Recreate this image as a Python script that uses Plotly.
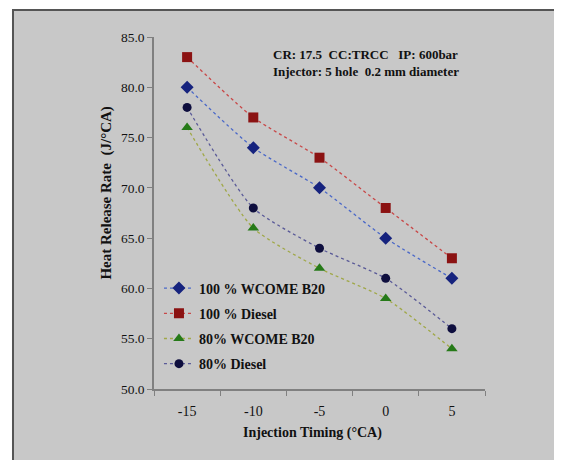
import plotly.graph_objects as go

timing = ["-15", "-10", "-5", "0", "5"]
wcome100 = [80, 74, 70, 65, 61]
diesel100 = [83, 77, 73, 68, 63]
wcome80 = [76, 66, 62, 59, 54]
diesel80 = [78, 68, 64, 61, 56]

series = [
    ("100 % WCOME B20", wcome100, "diamond", 10, "#16237e", "#4a68c8"),
    ("100 % Diesel", diesel100, "square", 10, "#8b1212", "#c84848"),
    ("80% WCOME B20", wcome80, "triangle-up", 10, "#267a18", "#a0a848"),
    ("80% Diesel", diesel80, "circle", 9, "#0e0e3e", "#5a5a98"),
]

fig = go.Figure()
for i, (name, vals, sym, sz, mc, lc) in enumerate(series):
    fig.add_trace(go.Scatter(
        x=timing, y=vals, name=name, mode="lines+markers",
        legendgroup=f"g{i}",
        line=dict(color=lc, width=1.3, dash="dot", shape="spline", smoothing=0.6),
        marker=dict(symbol=sym, size=sz, color=mc, line=dict(width=0)),
    ))

font_family = "Liberation Serif, Times New Roman, serif"
fig.update_layout(
    width=562, height=460,
    margin=dict(l=146, r=85, t=29, b=79),
    paper_bgcolor="white",
    plot_bgcolor="rgba(0,0,0,0)",
    font=dict(family=font_family, size=14, color="#111111"),
    showlegend=True,
    legend=dict(x=0.015, y=0.331, xanchor="left", yanchor="top",
                bgcolor="rgba(0,0,0,0)", tracegroupgap=4,
                font=dict(family=font_family, size=14, color="#111111", weight="bold")),
    shapes=[dict(type="rect", xref="paper", yref="paper", layer="below",
                 x0=-0.426, x1=1.3, y0=-0.3, y1=1.0767,
                 fillcolor="#c8c8c8", line=dict(color="#555555", width=2))],
    annotations=[
        dict(xref="paper", yref="paper", x=0.64, y=0.978, xanchor="center", yanchor="top",
             align="left", showarrow=False,
             text="CR: 17.5  CC:TRCC   IP: 600bar<br>Injector: 5 hole  0.2 mm diameter",
             font=dict(family=font_family, size=13, color="#111111", weight="bold")),
        dict(xref="paper", yref="paper", x=-0.143, y=0.557, xanchor="center", yanchor="middle",
             textangle=-90, showarrow=False, text="Heat Release Rate  (J/°CA)",
             font=dict(family=font_family, size=15, color="#111111", weight="bold")),
        dict(xref="paper", yref="paper", x=0.48, y=-0.125, xanchor="center", yanchor="middle",
             showarrow=False, text="Injection Timing (°CA)",
             font=dict(family=font_family, size=14, color="#111111", weight="bold")),
    ],
)
fig.update_xaxes(
    type="category", range=[-0.5, 4.5], tickson="boundaries",
    ticks="outside", ticklen=5, tickcolor="#808080", ticklabelstandoff=8,
    showline=True, linecolor="#808080", linewidth=1.5, showgrid=False,
    tickfont=dict(size=14),
)
fig.update_yaxes(
    range=[50, 85], dtick=5, tickformat=".1f",
    ticks="outside", ticklen=5, tickcolor="#808080",
    showline=True, linecolor="#808080", linewidth=1.5, showgrid=False, zeroline=False,
    tickfont=dict(size=13.5),
)
fig.write_html("out.html")
